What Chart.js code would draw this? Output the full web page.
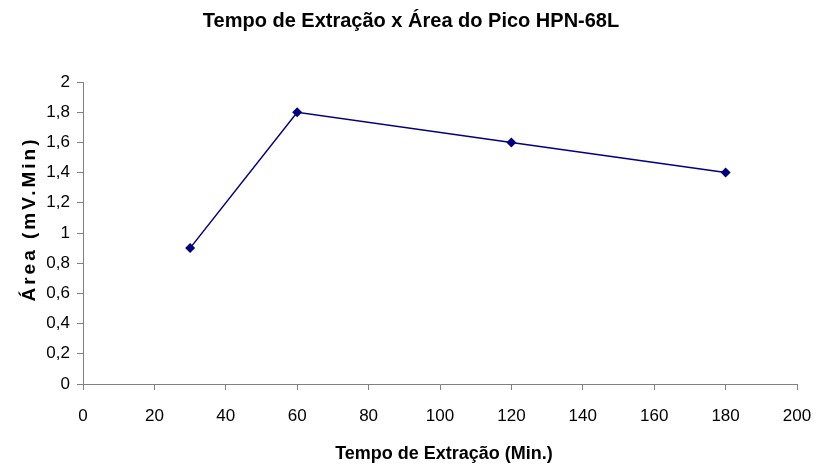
<!DOCTYPE html>
<html>
<head>
<meta charset="utf-8">
<script src="https://cdn.jsdelivr.net/npm/chart.js@4"></script>
<style>
  html, body { margin: 0; padding: 0; background: #fff; }
  #wrap { width: 816px; height: 470px; }
</style>
</head>
<body>
<div id="wrap"><canvas id="extracaoChart" width="816" height="470"></canvas></div>
<script>
const tempos = [30, 60, 120, 180];
const areas = [0.9, 1.8, 1.6, 1.4];
const xTicks = [0, 20, 40, 60, 80, 100, 120, 140, 160, 180, 200];
const yTicks = [0, 0.2, 0.4, 0.6, 0.8, 1, 1.2, 1.4, 1.6, 1.8, 2];

const titulo = "Tempo de Extração x Área do Pico HPN-68L";
const tituloX = "Tempo de Extração (Min.)";
const tituloY = "Área (mV.Min)";

const FONT = "'Liberation Sans', Arial, sans-serif";
const AXIS_GRAY = "#808080";

// textos (titulo e titulos dos eixos) desenhados a mao para fixar a posicao
const textosPlugin = {
  id: "textosFixos",
  afterDraw(chart) {
    const ctx = chart.ctx;
    const area = chart.chartArea;
    ctx.save();
    ctx.fillStyle = "#000";
    ctx.textAlign = "center";
    ctx.textBaseline = "middle";

    ctx.font = "bold 20px " + FONT;
    ctx.fillText(titulo, 411, 21);

    ctx.font = "bold 18px " + FONT;
    ctx.fillText(tituloX, (area.left + area.right) / 2 + 4, 454);

    ctx.translate(30, 219);
    ctx.rotate(-Math.PI / 2);
    ctx.font = "bold 19px " + FONT;
    ctx.letterSpacing = "3px";
    ctx.fillText(tituloY, 0, 0);
    ctx.restore();
  }
};

(function() {
  const ctx = document.getElementById("extracaoChart").getContext("2d");
  window.extracaoChart = new Chart(ctx, {
    type: "scatter",
    data: {
      datasets: [
        {
          label: "HPN-68L",
          data: tempos.map((t, i) => ({ x: t, y: areas[i] })),
          showLine: true,
          borderColor: "#000080",
          backgroundColor: "#000080",
          borderWidth: 1.5,
          pointStyle: "rectRot",
          pointRadius: 5,
          pointBorderWidth: 0,
          tension: 0
        }
      ]
    },
    options: {
      responsive: false,
      animation: false,
      layout: { padding: { top: 82, right: 19, left: 0, bottom: 0 } },
      plugins: {
        legend: { display: false },
        title: { display: false },
        tooltip: { enabled: false }
      },
      scales: {
        x: {
          type: "linear",
          min: 0,
          max: 200,
          afterFit(scale) {
            scale.height = 86;
            scale.paddingLeft = 0;
            scale.paddingRight = 0;
          },
          afterBuildTicks(scale) { scale.ticks = xTicks.map(v => ({ value: v })); },
          border: { color: AXIS_GRAY, width: 1 },
          grid: { drawOnChartArea: false, drawTicks: true, tickLength: 6, color: AXIS_GRAY },
          ticks: {
            padding: 16,
            color: "#000",
            font: { family: FONT, size: 17 },
            maxRotation: 0
          }
        },
        y: {
          type: "linear",
          min: 0,
          max: 2,
          afterFit(scale) { scale.width = 83; },
          afterBuildTicks(scale) { scale.ticks = yTicks.map(v => ({ value: v })); },
          border: { color: AXIS_GRAY, width: 1 },
          grid: { drawOnChartArea: false, drawTicks: true, tickLength: 6, color: AXIS_GRAY },
          ticks: {
            padding: 7,
            color: "#000",
            font: { family: FONT, size: 17 },
            callback: v => String(Math.round(v * 10) / 10).replace(".", ",")
          }
        }
      }
    },
    plugins: [textosPlugin]
  });
})();
</script>
</body>
</html>
